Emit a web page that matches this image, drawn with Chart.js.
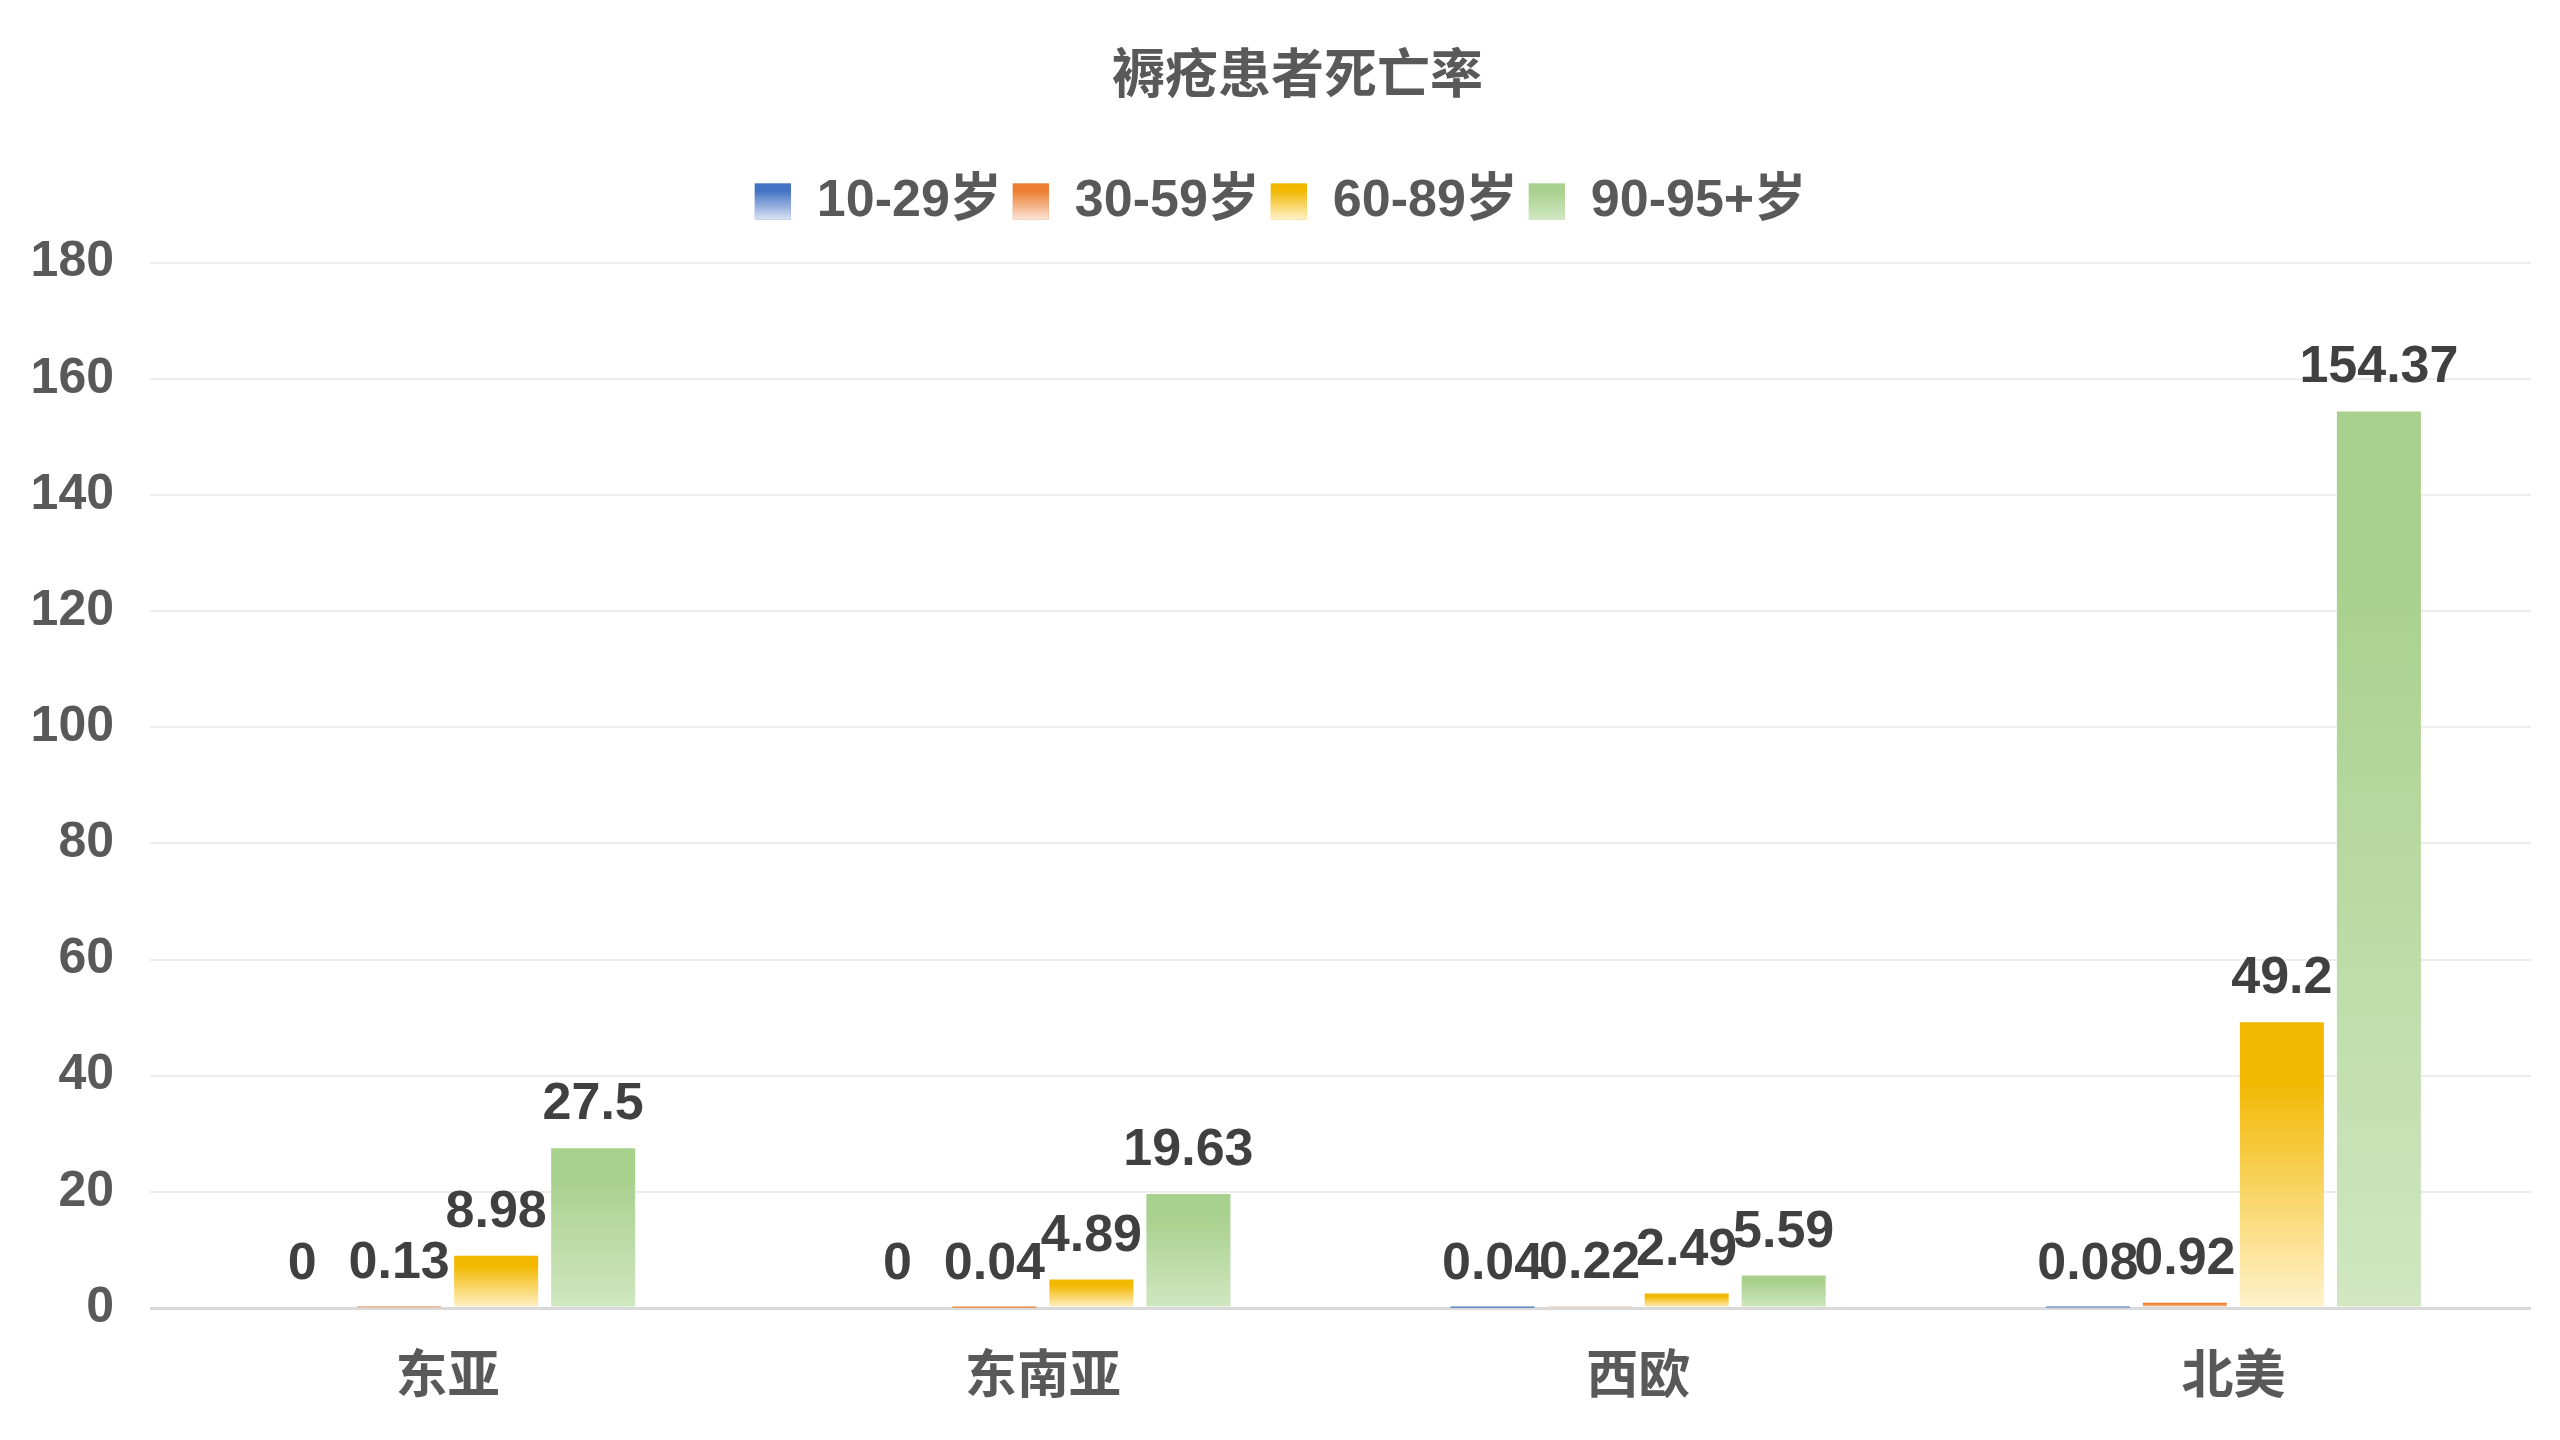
<!DOCTYPE html>
<html>
<head>
<meta charset="utf-8">
<script src="https://cdn.jsdelivr.net/npm/chart.js@4.4.1/dist/chart.umd.min.js"></script>
<style>
html,body{margin:0;padding:0;background:#fff;}
#wrap{width:2560px;height:1440px;position:relative;}
</style>
</head>
<body>
<div id="wrap"><canvas id="c" width="2560" height="1440"></canvas></div>
<script>
const titleText = '褥疮患者死亡率';
const categories = ['东亚', '东南亚', '西欧', '北美'];
const seriesNames = ['10-29岁', '30-59岁', '60-89岁', '90-95+岁'];
const age10to29 = [0, 0, 0.04, 0.08];
const age30to59 = [0.13, 0.04, 0.22, 0.92];
const age60to89 = [8.98, 4.89, 2.49, 49.2];
const age90plus = [27.5, 19.63, 5.59, 154.37];
const yTicks = [0, 20, 40, 60, 80, 100, 120, 140, 160, 180];

const topColors = ['#4472c4', '#ed7d31', '#f2b800', '#a9d18e'];
const lightColors = ['#dae3f3', '#fbe5d6', '#fff2cc', '#d0e7c1'];
const FONT = '"Liberation Sans", Arial, "Noto Sans CJK SC", sans-serif';

function makeGrad(ctx2d, i, top, bottom) {
  const g = ctx2d.createLinearGradient(0, top, 0, bottom);
  g.addColorStop(0, topColors[i]);
  g.addColorStop(0.2, topColors[i]);
  g.addColorStop(1, lightColors[i]);
  return g;
}

function barFill(i) {
  return function(ctx) {
    const chart = ctx.chart;
    if (ctx.type !== 'data' || !chart.chartArea || !chart.scales.y) return topColors[i];
    const y = chart.scales.y;
    const top = y.getPixelForValue(ctx.raw);
    const bottom = y.getPixelForValue(0);
    if (bottom - top < 2) return topColors[i];
    return makeGrad(chart.ctx, i, top, bottom);
  };
}

const dataLabelPlugin = {
  id: 'dataLabels',
  afterDatasetsDraw(chart) {
    const c = chart.ctx;
    c.save();
    c.font = 'bold 52px ' + FONT;
    c.fillStyle = '#404040';
    c.textAlign = 'center';
    c.textBaseline = 'alphabetic';
    chart.data.datasets.forEach((ds, di) => {
      const meta = chart.getDatasetMeta(di);
      meta.data.forEach((bar, idx) => {
        c.fillText(String(ds.data[idx]), bar.x, bar.y - 29);
      });
    });
    c.restore();
  }
};

const TITLE_SHIFT = 17;
const layoutTweakPlugin = {
  id: 'layoutTweak',
  beforeInit(chart) {
    const lg = chart.legend;
    if (lg) {
      const origFit = lg.fit;
      lg.fit = function() {
        origFit.call(this);
        this.height += 25;
      };
    }
  },
  afterLayout(chart) {
    const t = chart.titleBlock;
    if (t) { t.left += TITLE_SHIFT; t.right += TITLE_SHIFT; }
  },
  afterDraw(chart) {
    const lg = chart.legend;
    if (!lg || !lg.legendHitBoxes) return;
    const lo = chart.options.plugins.legend.labels;
    const fs = lo.font.size;
    const c = chart.ctx;
    lg.legendHitBoxes.forEach((hb, i) => {
      const top = hb.top + Math.max((fs - lo.boxHeight) / 2, 0);
      c.fillStyle = makeGrad(c, i, top, top + lo.boxHeight);
      c.fillRect(hb.left, top, lo.boxWidth, lo.boxHeight);
    });
  }
};

const seriesValues = [age10to29, age30to59, age60to89, age90plus];
const PAD_LEFT = 30;

new Chart(document.getElementById('c'), {
  type: 'bar',
  data: {
    labels: categories,
    datasets: seriesNames.map((name, i) => ({
      label: name,
      data: seriesValues[i],
      backgroundColor: barFill(i),
      borderWidth: 0,
      categoryPercentage: 0.652,
      barPercentage: 0.866
    }))
  },
  options: {
    responsive: false,
    animation: false,
    devicePixelRatio: 1,
    layout: { padding: { left: PAD_LEFT, right: 29, top: 0, bottom: 0 } },
    plugins: {
      title: {
        display: true,
        text: titleText,
        color: '#595959',
        font: { family: FONT, size: 53, weight: 'bold', lineHeight: 1.2 },
        padding: { top: 47, bottom: 54 }
      },
      legend: {
        display: true,
        position: 'top',
        labels: {
          color: '#595959',
          font: { family: FONT, size: 52, weight: 'bold' },
          boxWidth: 36,
          boxHeight: 36,
          padding: 11,
          generateLabels(chart) {
            return chart.data.datasets.map((ds, i) => ({
              text: ds.label,
              fillStyle: topColors[i],
              strokeStyle: topColors[i],
              lineWidth: 0,
              fontColor: '#595959',
              hidden: false,
              datasetIndex: i
            }));
          }
        }
      },
      tooltip: { enabled: false }
    },
    scales: {
      x: {
        grid: { display: false },
        border: { display: false },
        ticks: {
          color: '#595959',
          font: { family: FONT, size: 52, weight: 'bold' },
          padding: 31
        },
        afterFit(s) { s.height = 132; }
      },
      y: {
        min: 0,
        max: 180,
        afterBuildTicks(s) { s.ticks = yTicks.map(v => ({ value: v })); },
        grid: {
          drawTicks: false,
          color: (ctx) => (ctx.tick && ctx.tick.value === 0) ? '#d9d9d9' : '#ededed',
          lineWidth: (ctx) => (ctx.tick && ctx.tick.value === 0) ? 3 : 2
        },
        border: { display: false },
        ticks: {
          color: '#595959',
          font: { family: FONT, size: 50, weight: 'bold' },
          padding: 36
        },
        afterFit(s) { s.width = 150 - PAD_LEFT; }
      }
    }
  },
  plugins: [dataLabelPlugin, layoutTweakPlugin]
});
</script>
</body>
</html>
